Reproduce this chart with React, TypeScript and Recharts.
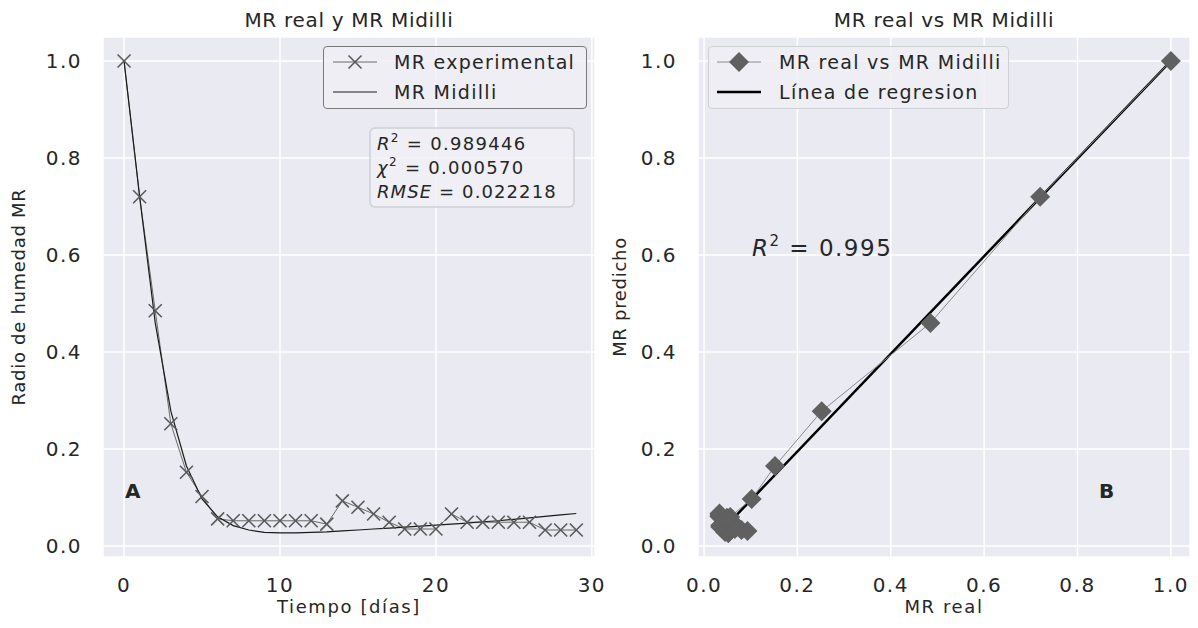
import { ComposedChart, Line, Scatter, XAxis, YAxis, CartesianGrid, Legend } from 'recharts';

const FONT = '"DejaVu Sans", Verdana, sans-serif';
const INK = '#262626';

// días de secado
const days = [0, 1, 2, 3, 4, 5, 6, 7, 8, 9, 10, 11, 12, 13, 14, 15, 16, 17, 18, 19, 20, 21, 22, 23, 24, 25, 26, 27, 28, 29];
const mrExperimental = [
  1.0, 0.72, 0.485, 0.252, 0.152, 0.102, 0.056, 0.052, 0.052, 0.052, 0.052, 0.052, 0.052, 0.045, 0.093,
  0.08, 0.066, 0.049, 0.035, 0.035, 0.035, 0.066, 0.049, 0.049, 0.049, 0.049, 0.049, 0.033, 0.033, 0.033,
];
const mrMidilli = [
  1.0, 0.72, 0.46, 0.278, 0.165, 0.097, 0.06, 0.042, 0.033, 0.028, 0.027, 0.027, 0.028, 0.029, 0.031,
  0.033, 0.035, 0.037, 0.039, 0.041, 0.043, 0.045, 0.047, 0.05, 0.052, 0.055, 0.058, 0.061, 0.064, 0.067,
];
const regressionX = [0.033, 1.0];
const regressionY = [0.027, 1.0];
const timeTicks = [0, 10, 20, 30];
const mrTicks = [0, 0.2, 0.4, 0.6, 0.8, 1.0];
const legendOrder = ['MR experimental', 'MR Midilli', 'MR real vs MR Midilli', 'Línea de regresion'];

const curveData = days.map((t, i) => ({ t, exp: mrExperimental[i], mid: mrMidilli[i] }));
const pairData = mrExperimental.map((x, i) => ({ x, y: mrMidilli[i] }));
const regressionData = regressionX.map((x, i) => ({ x, y: regressionY[i] }));

const fmt1 = (v: number) => v.toFixed(1);

const XMark = (props: any) => {
  const { cx, cy } = props;
  if (cx == null || cy == null) return <g />;
  const s = 6.5;
  return (
    <g key={props.index}>
      <line x1={cx - s} y1={cy - s} x2={cx + s} y2={cy + s} stroke="#5a5a5a" strokeWidth={1.6} />
      <line x1={cx - s} y1={cy + s} x2={cx + s} y2={cy - s} stroke="#5a5a5a" strokeWidth={1.6} />
    </g>
  );
};

const Diamond = (props: any) => {
  const { cx, cy } = props;
  const r = 10;
  return <polygon points={`${cx},${cy - r} ${cx + r},${cy} ${cx},${cy + r} ${cx - r},${cy}`} fill="#606060" />;
};

const markerFor = (name: string) => {
  if (name === 'MR experimental')
    return (
      <>
        <line x1={9} x2={53} y1={15} y2={15} stroke="#6a6a6a" strokeWidth={1} />
        <XMark cx={31} cy={15} />
      </>
    );
  if (name === 'MR Midilli') return <line x1={9} x2={53} y1={15} y2={15} stroke="#1a1a1a" strokeWidth={1.2} />;
  if (name === 'MR real vs MR Midilli')
    return (
      <>
        <line x1={8} x2={52} y1={15} y2={15} stroke="#8a8a8a" strokeWidth={1} />
        <Diamond cx={30} cy={15} />
      </>
    );
  return <line x1={8} x2={52} y1={15} y2={15} stroke="#000" strokeWidth={2.5} />;
};

const makeLegend = (border: string) => (props: any) => {
  const items = [...(props.payload || [])].sort(
    (a: any, b: any) => legendOrder.indexOf(a.value) - legendOrder.indexOf(b.value)
  );
  return (
    <div
      style={{
        boxSizing: 'border-box',
        width: '100%',
        height: 63,
        border: `1.5px solid ${border}`,
        borderRadius: 4,
        background: 'rgba(238,238,244,0.85)',
        fontFamily: FONT,
        fontSize: 19,
        letterSpacing: 1.3,
        color: INK,
      }}
    >
      {items.map((entry: any) => (
        <div key={entry.value} style={{ display: 'flex', alignItems: 'center', height: 30 }}>
          <svg width={62} height={30}>{markerFor(entry.value)}</svg>
          <span style={{ marginLeft: 8, whiteSpace: 'nowrap' }}>{entry.value}</span>
        </div>
      ))}
    </div>
  );
};

const tickStyle = { fill: INK, fontSize: 20, fontFamily: FONT, letterSpacing: 1.5 };
const labelStyle = { fill: INK, fontSize: 18, fontFamily: FONT, letterSpacing: 1.6 };
const vLabelStyle = { fill: INK, fontSize: 18, fontFamily: FONT, letterSpacing: 0.7 };

const LeftPanel = () => (
  <ComposedChart width={630} height={628} data={curveData} margin={{ top: 37, right: 35, bottom: 9, left: 0 }}>
    <CartesianGrid fill="#EAEAF2" stroke="#ffffff" strokeWidth={1.5} />
    <XAxis
      dataKey="t"
      type="number"
      domain={[-1.35, 30.2]}
      ticks={timeTicks}
      axisLine={false}
      tickLine={false}
      tickMargin={15}
      height={62}
      tick={tickStyle}
      label={{ value: 'Tiempo [días]', position: 'insideBottom', offset: 6, ...labelStyle }}
    />
    <YAxis
      type="number"
      domain={[-0.0227, 1.0495]}
      ticks={mrTicks}
      tickFormatter={fmt1}
      axisLine={false}
      tickLine={false}
      tickMargin={15}
      width={103}
      tick={tickStyle}
      label={{
        value: 'Radio de humedad MR',
        angle: -90,
        position: 'insideLeft',
        offset: 19,
        ...vLabelStyle,
        style: { textAnchor: 'middle' },
      }}
    />
    <Legend
      layout="vertical"
      align="center"
      verticalAlign="middle"
      content={makeLegend('#7a7a7a')}
      wrapperStyle={{ left: 323, top: 46, width: 264, height: 63 }}
    />
    <Line
      dataKey="exp"
      name="MR experimental"
      stroke="#6a6a6a"
      strokeWidth={1}
      dot={XMark}
      activeDot={false}
      isAnimationActive={false}
    />
    <Line
      dataKey="mid"
      name="MR Midilli"
      stroke="#1a1a1a"
      strokeWidth={1.2}
      dot={false}
      activeDot={false}
      isAnimationActive={false}
    />
    <text x={349} y={27} textAnchor="middle" fontFamily={FONT} fontSize={20} letterSpacing={0.7} fill={INK}>
      MR real y MR Midilli
    </text>
    <rect x={370} y={128} width={204} height={79} rx={5} fill="rgba(240,240,246,0.85)" stroke="#cfcfd6" strokeWidth={1.5} />
    <text x={377} y={150} fontFamily={FONT} fontSize={18} letterSpacing={1.3} fill={INK}>
      <tspan fontStyle="italic">R</tspan>
      <tspan dy={-8} fontSize={12}>2</tspan>
      <tspan dy={8}> = 0.989446</tspan>
    </text>
    <text x={377} y={174} fontFamily={FONT} fontSize={18} letterSpacing={1.3} fill={INK}>
      <tspan fontStyle="italic">χ</tspan>
      <tspan dy={-8} fontSize={12}>2</tspan>
      <tspan dy={8}> = 0.000570</tspan>
    </text>
    <text x={377} y={198} fontFamily={FONT} fontSize={18} letterSpacing={1.1} fill={INK}>
      <tspan fontStyle="italic">RMSE</tspan>
      <tspan> = 0.022218</tspan>
    </text>
    <text x={125} y={498} fontFamily={FONT} fontSize={20} fontWeight="bold" fill={INK}>
      A
    </text>
  </ComposedChart>
);

const RightPanel = () => (
  <ComposedChart width={598} height={628} margin={{ top: 37, right: 8, bottom: 9, left: 0 }}>
    <CartesianGrid fill="#EAEAF2" stroke="#ffffff" strokeWidth={1.5} />
    <XAxis
      dataKey="x"
      type="number"
      domain={[-0.013, 1.041]}
      ticks={mrTicks}
      tickFormatter={fmt1}
      axisLine={false}
      tickLine={false}
      tickMargin={15}
      height={62}
      tick={tickStyle}
      label={{ value: 'MR real', position: 'insideBottom', offset: 6, ...labelStyle }}
    />
    <YAxis
      dataKey="y"
      type="number"
      domain={[-0.0227, 1.0495]}
      ticks={mrTicks}
      tickFormatter={fmt1}
      axisLine={false}
      tickLine={false}
      tickMargin={15}
      width={98}
      tick={tickStyle}
      label={{
        value: 'MR predicho',
        angle: -90,
        position: 'insideLeft',
        offset: 20,
        ...vLabelStyle,
        style: { textAnchor: 'middle' },
      }}
    />
    <Legend
      layout="vertical"
      align="center"
      verticalAlign="middle"
      content={makeLegend('#cfcfd6')}
      wrapperStyle={{ left: 108, top: 46, width: 301, height: 63 }}
    />
    <Scatter
      data={pairData}
      name="MR real vs MR Midilli"
      fill="#606060"
      line={{ stroke: '#8a8a8a', strokeWidth: 1 }}
      shape={Diamond}
      isAnimationActive={false}
    />
    <Line
      data={regressionData}
      dataKey="y"
      name="Línea de regresion"
      stroke="#000000"
      strokeWidth={2.5}
      dot={false}
      activeDot={false}
      isAnimationActive={false}
    />
    <text x={344} y={27} textAnchor="middle" fontFamily={FONT} fontSize={20} letterSpacing={0.7} fill={INK}>
      MR real vs MR Midilli
    </text>
    <text x={152} y={256} fontFamily={FONT} fontSize={23} letterSpacing={1.5} fill={INK}>
      <tspan fontStyle="italic">R</tspan>
      <tspan dy={-10} fontSize={15}>2</tspan>
      <tspan dy={10}> = 0.995</tspan>
    </text>
    <text x={499} y={498} fontFamily={FONT} fontSize={20} fontWeight="bold" fill={INK}>
      B
    </text>
  </ComposedChart>
);

export default function App() {
  return (
    <div style={{ position: 'absolute', left: 0, top: 0, width: 1198, height: 628, background: '#fff', fontFamily: FONT }}>
      <div style={{ position: 'absolute', left: 0, top: 0 }}>
        <LeftPanel />
      </div>
      <div style={{ position: 'absolute', left: 600, top: 0 }}>
        <RightPanel />
      </div>
    </div>
  );
}
